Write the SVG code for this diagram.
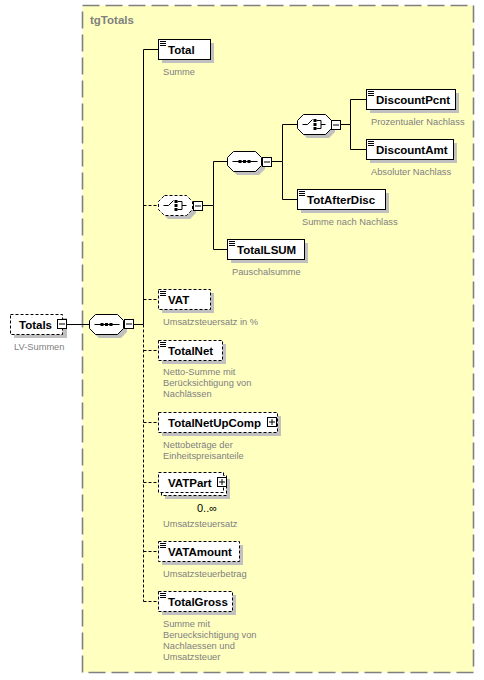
<svg xmlns="http://www.w3.org/2000/svg" width="484" height="680" viewBox="0 0 484 680">
<style>
.bg{fill:#ffffc0;stroke:#808080;stroke-width:1.6;stroke-dasharray:17,6}
.sh{fill:#c0c0c0;stroke:none}
.box{fill:#fff;stroke:#000;stroke-width:1}
.opt{stroke-dasharray:3,2}
.ln{fill:none;stroke:#000;stroke-width:1}
.dl{fill:none;stroke:#000;stroke-width:1;stroke-dasharray:3,2}
.ico{fill:none;stroke:#000;stroke-width:1}
.nm{font-family:"Liberation Sans",Arial,sans-serif;font-weight:bold;font-size:11.5px;fill:#000}
.ds{font-family:"Liberation Sans",Arial,sans-serif;font-size:9.3px;fill:#808080}
.tt{font-family:"Liberation Sans",Arial,sans-serif;font-weight:bold;font-size:11.5px;fill:#808080}
.occ{font-family:"Liberation Sans",Arial,sans-serif;font-size:11px;fill:#000}
.sq{fill:#000;stroke:none}
</style>
<defs>
<path id="oct" d="M6,0H28L34,6V14L28,20H6L0,14V6Z"/>
<g id="seqico"><path class="ico" d="M5,10.5H30"/><rect class="sq" x="11" y="9" width="3" height="3"/><rect class="sq" x="15.5" y="9" width="3" height="3"/><rect class="sq" x="20" y="9" width="3" height="3"/></g>
<g id="choico"><path class="ico" d="M5,10.5H10L15,5.5"/><rect class="sq" x="16" y="5" width="3" height="3"/><rect class="sq" x="16" y="9" width="3" height="3"/><rect class="sq" x="16" y="13" width="3" height="3"/><path class="ico" d="M19,6.5H23.5V14.5H19M23.5,10.5H28"/></g>
<g id="minus"><rect class="box" x="0.5" y="0.5" width="9" height="9"/><path class="ico" d="M2,5H8"/></g>
<g id="plus"><rect class="box" x="0.5" y="0.5" width="9" height="9"/><path class="ico" d="M2,5H8M5,2V8"/></g>
<path id="doc" class="ico" d="M0,0.5H6M0,2.5H6M0,4.5H6"/>
</defs>

<rect class="bg" x="82.5" y="5.5" width="391" height="667"/>
<text class="tt" x="90" y="24">tgTotals</text>

<g id="connectors">
<path class="ln" d="M67,324.5H89"/>
<path class="ln" d="M133,324.5H143.5"/>
<path class="ln" d="M143.5,49.5V324.5"/>
<path class="dl" d="M143.5,324.5V601.5"/>
<path class="ln" d="M143.5,49.5H158"/>
<path class="dl" d="M143.5,205.5H158"/>
<path class="dl" d="M143.5,299.5H158"/>
<path class="dl" d="M143.5,350.5H158"/>
<path class="dl" d="M143.5,422.5H158"/>
<path class="dl" d="M143.5,482.5H158"/>
<path class="dl" d="M143.5,551.5H158"/>
<path class="dl" d="M143.5,601.5H158"/>
<path class="ln" d="M202,205.5H213.5V161.5H227M213.5,205.5V249.5H227"/>
<path class="ln" d="M271,161.5H282.5V124.5H297M282.5,161.5V199.5H297"/>
<path class="ln" d="M340,124.5H350.5V99.5H366M350.5,124.5V149.5H366"/>
</g>

<g id="n-Totals">
<rect class="sh" x="14" y="318" width="53" height="20"/>
<rect class="box opt" x="10.5" y="314.5" width="52" height="20"/>
<text class="nm" x="19" y="329">Totals</text>
<use href="#minus" x="57" y="319"/>
<text class="ds" x="14" y="350">LV-Summen</text>
</g>

<g id="n-seq-main">
<use href="#oct" class="sh" x="93" y="318"/>
<use href="#oct" class="box" x="89.5" y="314.5"/>
<use href="#seqico" x="89.5" y="314"/>
<use href="#minus" x="124" y="319"/>
</g>

<g id="n-Total">
<rect class="sh" x="162" y="43" width="52" height="20"/>
<rect class="box" x="158.5" y="39.5" width="52" height="20"/>
<use href="#doc" x="160" y="41"/>
<text class="nm" x="168" y="54">Total</text>
<text class="ds" x="163" y="75">Summe</text>
</g>

<g id="n-choice-outer">
<use href="#oct" class="sh" x="162" y="199"/>
<use href="#oct" class="box opt" x="158.5" y="195.5"/>
<use href="#choico" x="158.5" y="195"/>
<use href="#minus" x="193" y="201"/>
</g>

<g id="n-seq-inner">
<use href="#oct" class="sh" x="231" y="155"/>
<use href="#oct" class="box" x="227.5" y="151.5"/>
<use href="#seqico" x="227.5" y="151"/>
<use href="#minus" x="262" y="157"/>
</g>

<g id="n-choice-inner">
<use href="#oct" class="sh" x="301" y="118"/>
<use href="#oct" class="box" x="297.5" y="114.5"/>
<use href="#choico" x="297.5" y="114"/>
<use href="#minus" x="331" y="120"/>
</g>

<g id="n-DiscountPcnt">
<rect class="sh" x="370" y="93" width="89" height="20"/>
<rect class="box" x="366.5" y="89.5" width="89" height="20"/>
<use href="#doc" x="368" y="91"/>
<text class="nm" x="376" y="104">DiscountPcnt</text>
<text class="ds" x="371" y="125">Prozentualer Nachlass</text>
</g>

<g id="n-DiscountAmt">
<rect class="sh" x="370" y="143" width="87" height="20"/>
<rect class="box" x="366.5" y="139.5" width="87" height="20"/>
<use href="#doc" x="368" y="141"/>
<text class="nm" x="376" y="154">DiscountAmt</text>
<text class="ds" x="371" y="175">Absoluter Nachlass</text>
</g>

<g id="n-TotAfterDisc">
<rect class="sh" x="301" y="193" width="88" height="20"/>
<rect class="box" x="297.5" y="189.5" width="88" height="20"/>
<use href="#doc" x="299" y="191"/>
<text class="nm" x="307" y="204">TotAfterDisc</text>
<text class="ds" x="302" y="225">Summe nach Nachlass</text>
</g>

<g id="n-TotalLSUM">
<rect class="sh" x="231" y="243" width="77" height="20"/>
<rect class="box" x="227.5" y="239.5" width="77" height="20"/>
<use href="#doc" x="229" y="241"/>
<text class="nm" x="237" y="254">TotalLSUM</text>
<text class="ds" x="232" y="275">Pauschalsumme</text>
</g>

<g id="n-VAT">
<rect class="sh" x="162" y="293" width="52" height="20"/>
<rect class="box opt" x="158.5" y="289.5" width="52" height="20"/>
<use href="#doc" x="160" y="291"/>
<text class="nm" x="168" y="304">VAT</text>
<text class="ds" x="163" y="325">Umsatzsteuersatz in %</text>
</g>

<g id="n-TotalNet">
<rect class="sh" x="162" y="344" width="64" height="20"/>
<rect class="box opt" x="158.5" y="340.5" width="64" height="20"/>
<use href="#doc" x="160" y="342"/>
<text class="nm" x="168" y="355">TotalNet</text>
<text class="ds" x="163" y="375">Netto-Summe mit</text>
<text class="ds" x="163" y="386">Berücksichtigung von</text>
<text class="ds" x="163" y="397">Nachlässen</text>
</g>

<g id="n-TotalNetUpComp">
<rect class="sh" x="162" y="416" width="119" height="20"/>
<rect class="box opt" x="158.5" y="412.5" width="119" height="20"/>
<text class="nm" x="168" y="427">TotalNetUpComp</text>
<use href="#plus" x="267" y="417"/>
<text class="ds" x="163" y="448">Nettobeträge der</text>
<text class="ds" x="163" y="459">Einheitspreisanteile</text>
</g>

<g id="n-VATPart">
<rect class="sh" x="165" y="479" width="65" height="20"/>
<rect class="box opt" x="161.5" y="475.5" width="65" height="20"/>
<rect class="box opt" x="158.5" y="472.5" width="65" height="20"/>
<text class="nm" x="168" y="487">VATPart</text>
<use href="#plus" x="217" y="477"/>
<text class="occ" x="207" y="512" text-anchor="middle">0..∞</text>
<text class="ds" x="163" y="527">Umsatzsteuersatz</text>
</g>

<g id="n-VATAmount">
<rect class="sh" x="162" y="545" width="81" height="20"/>
<rect class="box opt" x="158.5" y="541.5" width="81" height="20"/>
<use href="#doc" x="160" y="543"/>
<text class="nm" x="168" y="556">VATAmount</text>
<text class="ds" x="163" y="577">Umsatzsteuerbetrag</text>
</g>

<g id="n-TotalGross">
<rect class="sh" x="162" y="595" width="74" height="20"/>
<rect class="box opt" x="158.5" y="591.5" width="74" height="20"/>
<use href="#doc" x="160" y="593"/>
<text class="nm" x="168" y="606">TotalGross</text>
<text class="ds" x="163" y="627">Summe mit</text>
<text class="ds" x="163" y="638">Beruecksichtigung von</text>
<text class="ds" x="163" y="649">Nachlaessen und</text>
<text class="ds" x="163" y="660">Umsatzsteuer</text>
</g>
</svg>
